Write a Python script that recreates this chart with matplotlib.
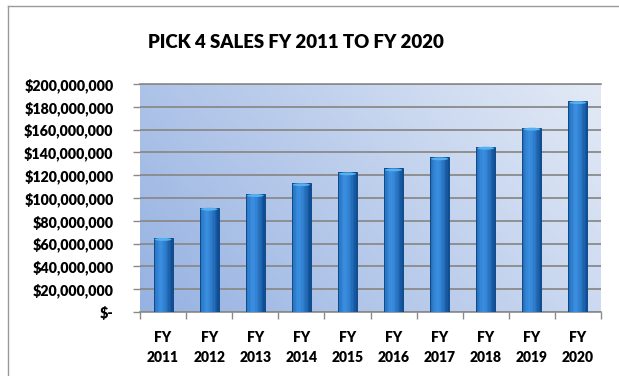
import numpy as np
import matplotlib
matplotlib.use("Agg")
import matplotlib.pyplot as plt
from matplotlib.ticker import FuncFormatter
from matplotlib.lines import Line2D
from matplotlib.patches import Ellipse

years = ["2011", "2012", "2013", "2014", "2015", "2016", "2017", "2018", "2019", "2020"]
sales = [65e6, 91.5e6, 103.5e6, 113e6, 122.5e6, 126e6, 135.7e6, 145e6, 161.7e6, 185e6]
title = "PICK 4 SALES FY 2011 TO FY 2020"

plt.rcParams['font.family'] = ['Lato', 'DejaVu Sans']

W, H = 619, 376
fig = plt.figure(figsize=(W / 100, H / 100), dpi=100)
ax = fig.add_axes([140 / W, 1 - 312 / H, (601 - 140) / W, (312 - 84) / H])

# outer border (left & top)
fig.add_artist(Line2D([8 / W, 8 / W], [0, 1 - 6 / H], transform=fig.transFigure, color='#9a9a9a', lw=1))
fig.add_artist(Line2D([8 / W, 1], [1 - 6 / H, 1 - 6 / H], transform=fig.transFigure, color='#9a9a9a', lw=1))

n = len(years)
ax.set_xlim(-0.5, n - 0.5)

# gradient background
gx = np.linspace(0, 1, 200)
gy = np.linspace(0, 1, 100)
X, Y = np.meshgrid(gx, gy)
t = np.clip(0.7 * X + 0.3 * Y, 0, 1)
c0 = np.array([0x96, 0xb2, 0xe2]) / 255
c1 = np.array([0xe3, 0xea, 0xf6]) / 255
img = c0[None, None, :] * (1 - t[..., None]) + c1[None, None, :] * t[..., None]
ax.imshow(img, extent=[-0.5, n - 0.5, 0, 200e6], aspect='auto', zorder=0, origin='lower')
ax.set_ylim(0, 200e6)

ax.set_axisbelow(True)
ax.yaxis.grid(True, color='#8a8a8a', lw=1.3, zorder=1)

x = np.arange(n)
bw = 0.41
# smooth cylinder shading via thin slices
ns = 14
light = np.array([0x3a, 0x8e, 0xe0]) / 255
dark = np.array([0x0c, 0x48, 0x8c]) / 255
for i in range(ns):
    u = (i + 0.5) / ns
    k = np.clip(np.abs(u - 0.38) / 0.62, 0, 1) ** 1.4
    col = light * (1 - k) + dark * k
    ax.bar(x - bw / 2 + u * bw, sales, width=bw / ns * 1.05, color=col, lw=0, zorder=3)
ax.bar(x, sales, width=bw, fill=False, edgecolor='#0d4a8a', lw=0.7, zorder=4)
for xi, v in zip(x, sales):
    ax.add_patch(Ellipse((xi, v - 1.3e6), bw * 0.9, 2.6e6, color='#55b0f0', lw=0, zorder=5))

ax.yaxis.set_major_locator(plt.MultipleLocator(20e6))
ax.yaxis.set_major_formatter(FuncFormatter(lambda v, p: "$-" if v == 0 else "${:,.0f}".format(v)))
for lab in ax.get_yticklabels():
    lab.set_fontweight('heavy')
ax.tick_params(axis='y', labelsize=10.3, length=5, color='#8a8a8a', pad=14, width=1)

ax.set_xticks(x)
ax.set_xticklabels(["FY\n" + y for y in years], fontsize=10, fontweight='heavy', linespacing=1.6)
ax.tick_params(axis='x', length=0, pad=14)
ax.set_xticks(np.arange(n + 1) - 0.5, minor=True)
ax.tick_params(axis='x', which='minor', length=5, color='#8a8a8a', width=1)

for s in ['bottom', 'top']:
    ax.spines[s].set_color('#8a8a8a')
    ax.spines[s].set_linewidth(1.2)
ax.spines['right'].set_visible(False)
ax.spines['left'].set_visible(False)

fig.text(296 / W, 1 - 42 / H, title, ha='center', va='center', fontsize=13.4, fontweight='heavy')

fig.savefig("out.png", dpi=100)
